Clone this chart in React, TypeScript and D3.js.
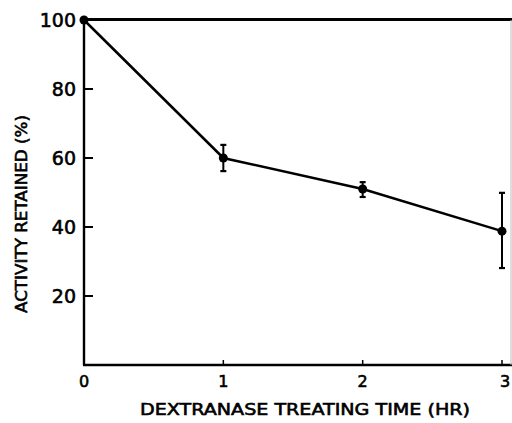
import React from "react";
import * as d3 from "d3";

const times = [0, 1, 2, 3];
const activity = [100, 60, 51, 38.8];
const errLow = [100, 56.2, 48.7, 28.1];
const errHigh = [100, 63.8, 53.0, 49.9];
const xTicks = [0, 1, 2, 3];
const yTicks = [20, 40, 60, 80, 100];

export default function App() {
  const W = 512, H = 423;
  const x = d3.scaleLinear().domain([0, 3]).range([84, 502]);
  const y = d3.scaleLinear().domain([0, 100]).range([365, 20]);
  const line = d3.line<number>().x((_, i) => x(times[i])).y((d) => y(d));
  const font = "'DejaVu Sans', sans-serif";
  const tStroke = { stroke: "#000", strokeWidth: 0.6 };
  return (
    <svg width={W} height={H} style={{ position: "absolute", left: 0, top: 0, background: "#fff" }}>
      <rect x={0} y={0} width={W} height={H} fill="#fff" />
      {/* frame */}
      <line x1={x(0)} x2={W} y1={y(100) - 0.5} y2={y(100) - 0.5} stroke="#000" strokeWidth={3} />
      <line x1={x(0)} x2={x(0)} y1={y(100)} y2={y(0)} stroke="#000" strokeWidth={2.4} />
      <line x1={x(0) - 1} x2={W} y1={y(0)} y2={y(0)} stroke="#000" strokeWidth={2.4} />
      <line x1={511} x2={511} y1={y(100)} y2={y(0)} stroke="#bbb" strokeWidth={1} />
      {/* y ticks */}
      {yTicks.map((t) => (
        <g key={"y" + t}>
          {t !== 100 && <line x1={x(0)} x2={x(0) + 9} y1={y(t)} y2={y(t)} stroke="#000" strokeWidth={2} />}
          <text x={76} y={y(t)} dy="0.36em" textAnchor="end" fontFamily={font} fontSize={19} fill="#000" {...tStroke}>
            {t}
          </text>
        </g>
      ))}
      {/* x ticks */}
      {xTicks.map((t) => (
        <g key={"x" + t}>
          {t !== 0 && <line x1={x(t)} x2={x(t)} y1={y(0)} y2={y(0) - 5} stroke="#000" strokeWidth={1.5} />}
          <text x={x(t) + (t === 3 ? 3 : 0)} y={381} dy="0.36em" textAnchor="middle" fontFamily={font} fontSize={16} fill="#000" {...tStroke}>
            {t}
          </text>
        </g>
      ))}
      {/* axis titles */}
      <text
        transform={`translate(22, 214) rotate(-90)`}
        textAnchor="middle"
        dy="0.36em"
        fontFamily={font}
        fontSize={15}
        textLength={198}
        lengthAdjust="spacingAndGlyphs"
        fill="#000"
        {...tStroke}
      >
        ACTIVITY RETAINED (%)
      </text>
      <text
        x={305}
        y={409}
        dy="0.36em"
        textAnchor="middle"
        fontFamily={font}
        fontSize={16}
        textLength={330}
        lengthAdjust="spacingAndGlyphs"
        fill="#000"
        {...tStroke}
      >
        DEXTRANASE  TREATING  TIME (HR)
      </text>
      {/* data line */}
      <path d={line(activity) || ""} fill="none" stroke="#000" strokeWidth={2.5} />
      {/* error bars */}
      {times.map((t, i) =>
        i === 0 ? null : (
          <g key={"e" + i}>
            <line x1={x(t)} x2={x(t)} y1={y(errLow[i])} y2={y(errHigh[i])} stroke="#000" strokeWidth={2} />
            <line x1={x(t) - 3} x2={x(t) + 3} y1={y(errLow[i])} y2={y(errLow[i])} stroke="#000" strokeWidth={2.2} />
            <line x1={x(t) - 3} x2={x(t) + 3} y1={y(errHigh[i])} y2={y(errHigh[i])} stroke="#000" strokeWidth={2.2} />
          </g>
        )
      )}
      {/* points */}
      {times.map((t, i) => (
        <circle key={"p" + i} cx={x(t)} cy={y(activity[i])} r={4.5} fill="#000" />
      ))}
    </svg>
  );
}
